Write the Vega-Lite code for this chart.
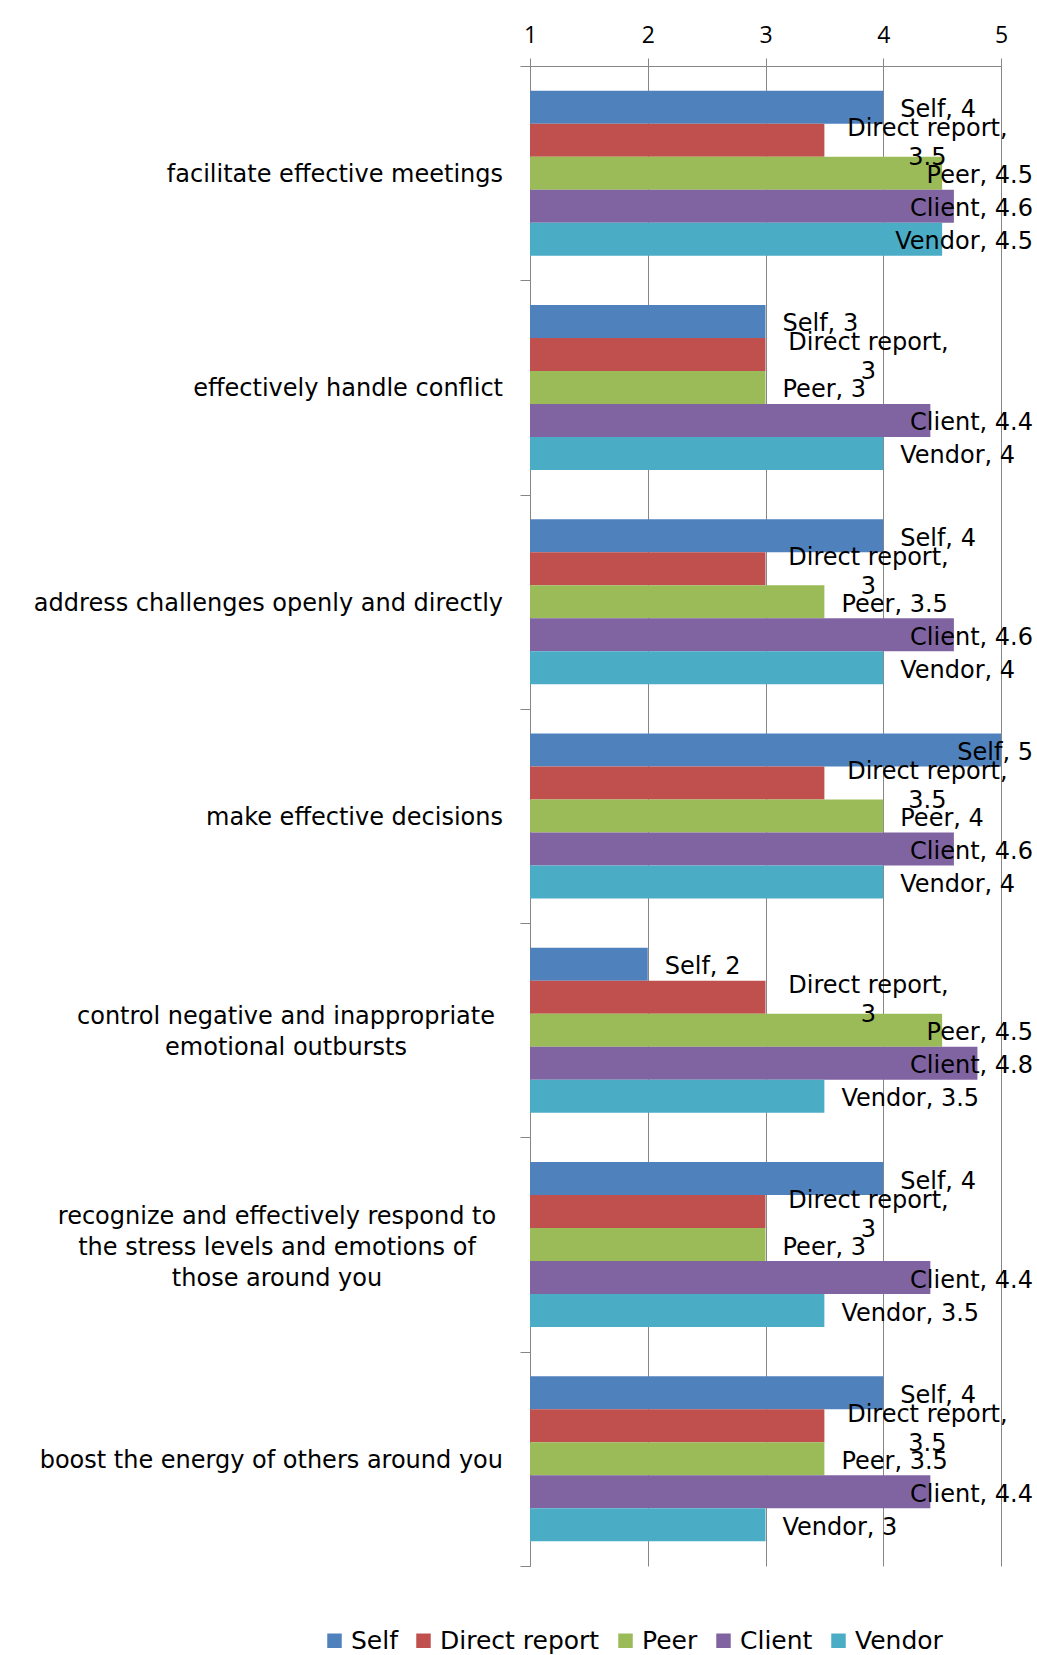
{
  "$schema": "https://vega.github.io/schema/vega-lite/v6.json",
  "autosize": "none",
  "width": 471,
  "height": 1500,
  "padding": {"left": 530, "top": 66, "right": 36, "bottom": 89},
  "background": "white",
  "config": {"view": {"stroke": null}},
  "data": {"values": [
    {"category": "facilitate effective meetings", "series": "Self", "score": 4},
    {"category": "facilitate effective meetings", "series": "Direct report", "score": 3.5},
    {"category": "facilitate effective meetings", "series": "Peer", "score": 4.5},
    {"category": "facilitate effective meetings", "series": "Client", "score": 4.6},
    {"category": "facilitate effective meetings", "series": "Vendor", "score": 4.5},
    {"category": "effectively handle conflict", "series": "Self", "score": 3},
    {"category": "effectively handle conflict", "series": "Direct report", "score": 3},
    {"category": "effectively handle conflict", "series": "Peer", "score": 3},
    {"category": "effectively handle conflict", "series": "Client", "score": 4.4},
    {"category": "effectively handle conflict", "series": "Vendor", "score": 4},
    {"category": "address challenges openly and directly", "series": "Self", "score": 4},
    {"category": "address challenges openly and directly", "series": "Direct report", "score": 3},
    {"category": "address challenges openly and directly", "series": "Peer", "score": 3.5},
    {"category": "address challenges openly and directly", "series": "Client", "score": 4.6},
    {"category": "address challenges openly and directly", "series": "Vendor", "score": 4},
    {"category": "make effective decisions", "series": "Self", "score": 5},
    {"category": "make effective decisions", "series": "Direct report", "score": 3.5},
    {"category": "make effective decisions", "series": "Peer", "score": 4},
    {"category": "make effective decisions", "series": "Client", "score": 4.6},
    {"category": "make effective decisions", "series": "Vendor", "score": 4},
    {"category": "control negative and inappropriate\nemotional outbursts", "series": "Self", "score": 2},
    {"category": "control negative and inappropriate\nemotional outbursts", "series": "Direct report", "score": 3},
    {"category": "control negative and inappropriate\nemotional outbursts", "series": "Peer", "score": 4.5},
    {"category": "control negative and inappropriate\nemotional outbursts", "series": "Client", "score": 4.8},
    {"category": "control negative and inappropriate\nemotional outbursts", "series": "Vendor", "score": 3.5},
    {"category": "recognize and effectively respond to\nthe stress levels and emotions of\nthose around you", "series": "Self", "score": 4},
    {"category": "recognize and effectively respond to\nthe stress levels and emotions of\nthose around you", "series": "Direct report", "score": 3},
    {"category": "recognize and effectively respond to\nthe stress levels and emotions of\nthose around you", "series": "Peer", "score": 3},
    {"category": "recognize and effectively respond to\nthe stress levels and emotions of\nthose around you", "series": "Client", "score": 4.4},
    {"category": "recognize and effectively respond to\nthe stress levels and emotions of\nthose around you", "series": "Vendor", "score": 3.5},
    {"category": "boost the energy of others around you", "series": "Self", "score": 4},
    {"category": "boost the energy of others around you", "series": "Direct report", "score": 3.5},
    {"category": "boost the energy of others around you", "series": "Peer", "score": 3.5},
    {"category": "boost the energy of others around you", "series": "Client", "score": 4.4},
    {"category": "boost the energy of others around you", "series": "Vendor", "score": 3}
  ]},
  "layer": [
    {
      "mark": {"type": "bar"},
      "encoding": {
        "y": {
          "field": "category", "type": "nominal", "sort": null,
          "scale": {"paddingInner": 0, "paddingOuter": 0},
          "axis": {
            "title": null, "orient": "left", "tickBand": "extent", "tickSize": 10,
            "domainColor": "#868686", "tickColor": "#868686", "labels": false
          }
        },
        "yOffset": {"field": "series", "type": "nominal", "sort": ["Self", "Direct report", "Peer", "Client", "Vendor"], "scale": {"paddingInner": 0, "paddingOuter": 0.747}},
        "x": {
          "field": "score", "type": "quantitative", "stack": null,
          "scale": {"domain": [1, 5], "zero": false, "nice": false},
          "axis": {
            "title": null, "orient": "top", "values": [1, 2, 3, 4, 5], "format": "d", "tickSize": 8,
            "labelFlush": false, "labelOverlap": false,
            "domainColor": "#868686", "tickColor": "#868686", "gridColor": "#868686", "grid": true,
            "labelFont": "Open Sans", "labelFontSize": 23, "labelColor": "#000000", "labelPadding": 11
          }
        },
        "x2": {"datum": 1},
        "color": {
          "field": "series", "type": "nominal",
          "scale": {"domain": ["Self", "Direct report", "Peer", "Client", "Vendor"], "range": ["#4F81BD", "#C0504D", "#9BBB59", "#8064A2", "#4BACC6"]},
          "legend": {
            "title": null, "orient": "none", "direction": "horizontal",
            "legendX": -208, "legendY": 1562,
            "symbolType": "square", "symbolSize": 210, "symbolStrokeWidth": 0,
            "labelFont": "DejaVu Sans", "labelFontSize": 25, "labelColor": "#000000",
            "columnPadding": 13, "labelOffset": 4, "padding": 0
          }
        }
      }
    },
    {
      "transform": [{"filter": "datum.series == 'Self' && indexof(datum.category, '\\n') < 0"}],
      "mark": {"type": "text", "align": "right", "baseline": "middle", "dx": -27, "dy": 2, "font": "DejaVu Sans", "fontSize": 24, "color": "#000000"},
      "encoding": {
        "y": {"field": "category", "type": "nominal", "sort": null},
        "x": {"datum": 1},
        "text": {"field": "category", "type": "nominal"}
      }
    },
    {
      "transform": [{"filter": "datum.series == 'Self' && indexof(datum.category, 'control') == 0"}],
      "mark": {"type": "text", "align": "center", "baseline": "middle", "dx": -244, "dy": -13, "lineBreak": "\n", "lineHeight": 31, "font": "DejaVu Sans", "fontSize": 24, "color": "#000000"},
      "encoding": {
        "y": {"field": "category", "type": "nominal", "sort": null},
        "x": {"datum": 1},
        "text": {"field": "category", "type": "nominal"}
      }
    },
    {
      "transform": [{"filter": "datum.series == 'Self' && indexof(datum.category, 'recognize') == 0"}],
      "mark": {"type": "text", "align": "center", "baseline": "middle", "dx": -253, "dy": -28, "lineBreak": "\n", "lineHeight": 31, "font": "DejaVu Sans", "fontSize": 24, "color": "#000000"},
      "encoding": {
        "y": {"field": "category", "type": "nominal", "sort": null},
        "x": {"datum": 1},
        "text": {"field": "category", "type": "nominal"}
      }
    },
    {
      "transform": [
        {"filter": "datum.series != 'Direct report' && datum.score <= 4.2"},
        {"calculate": "datum.series + ', ' + datum.score", "as": "lbl"}
      ],
      "mark": {"type": "text", "align": "left", "baseline": "middle", "dx": 17, "dy": 3, "font": "DejaVu Sans", "fontSize": 24, "color": "#000000"},
      "encoding": {
        "y": {"field": "category", "type": "nominal", "sort": null},
        "yOffset": {"field": "series", "type": "nominal", "sort": ["Self", "Direct report", "Peer", "Client", "Vendor"]},
        "x": {"field": "score", "type": "quantitative"},
        "text": {"field": "lbl", "type": "nominal"}
      }
    },
    {
      "transform": [
        {"filter": "datum.series != 'Direct report' && datum.score > 4.2"},
        {"calculate": "datum.series + ', ' + datum.score", "as": "lbl"}
      ],
      "mark": {"type": "text", "align": "right", "baseline": "middle", "dx": 32, "dy": 3, "font": "DejaVu Sans", "fontSize": 24, "color": "#000000"},
      "encoding": {
        "y": {"field": "category", "type": "nominal", "sort": null},
        "yOffset": {"field": "series", "type": "nominal", "sort": ["Self", "Direct report", "Peer", "Client", "Vendor"]},
        "x": {"datum": 5},
        "text": {"field": "lbl", "type": "nominal"}
      }
    },
    {
      "transform": [
        {"filter": "datum.series == 'Direct report'"},
        {"calculate": "'Direct report,\\n' + datum.score", "as": "lbl"}
      ],
      "mark": {"type": "text", "align": "center", "baseline": "middle", "dx": 103, "dy": -11, "lineBreak": "\n", "lineHeight": 29, "font": "DejaVu Sans", "fontSize": 24, "color": "#000000"},
      "encoding": {
        "y": {"field": "category", "type": "nominal", "sort": null},
        "yOffset": {"field": "series", "type": "nominal", "sort": ["Self", "Direct report", "Peer", "Client", "Vendor"]},
        "x": {"field": "score", "type": "quantitative"},
        "text": {"field": "lbl", "type": "nominal"}
      }
    }
  ]
}
